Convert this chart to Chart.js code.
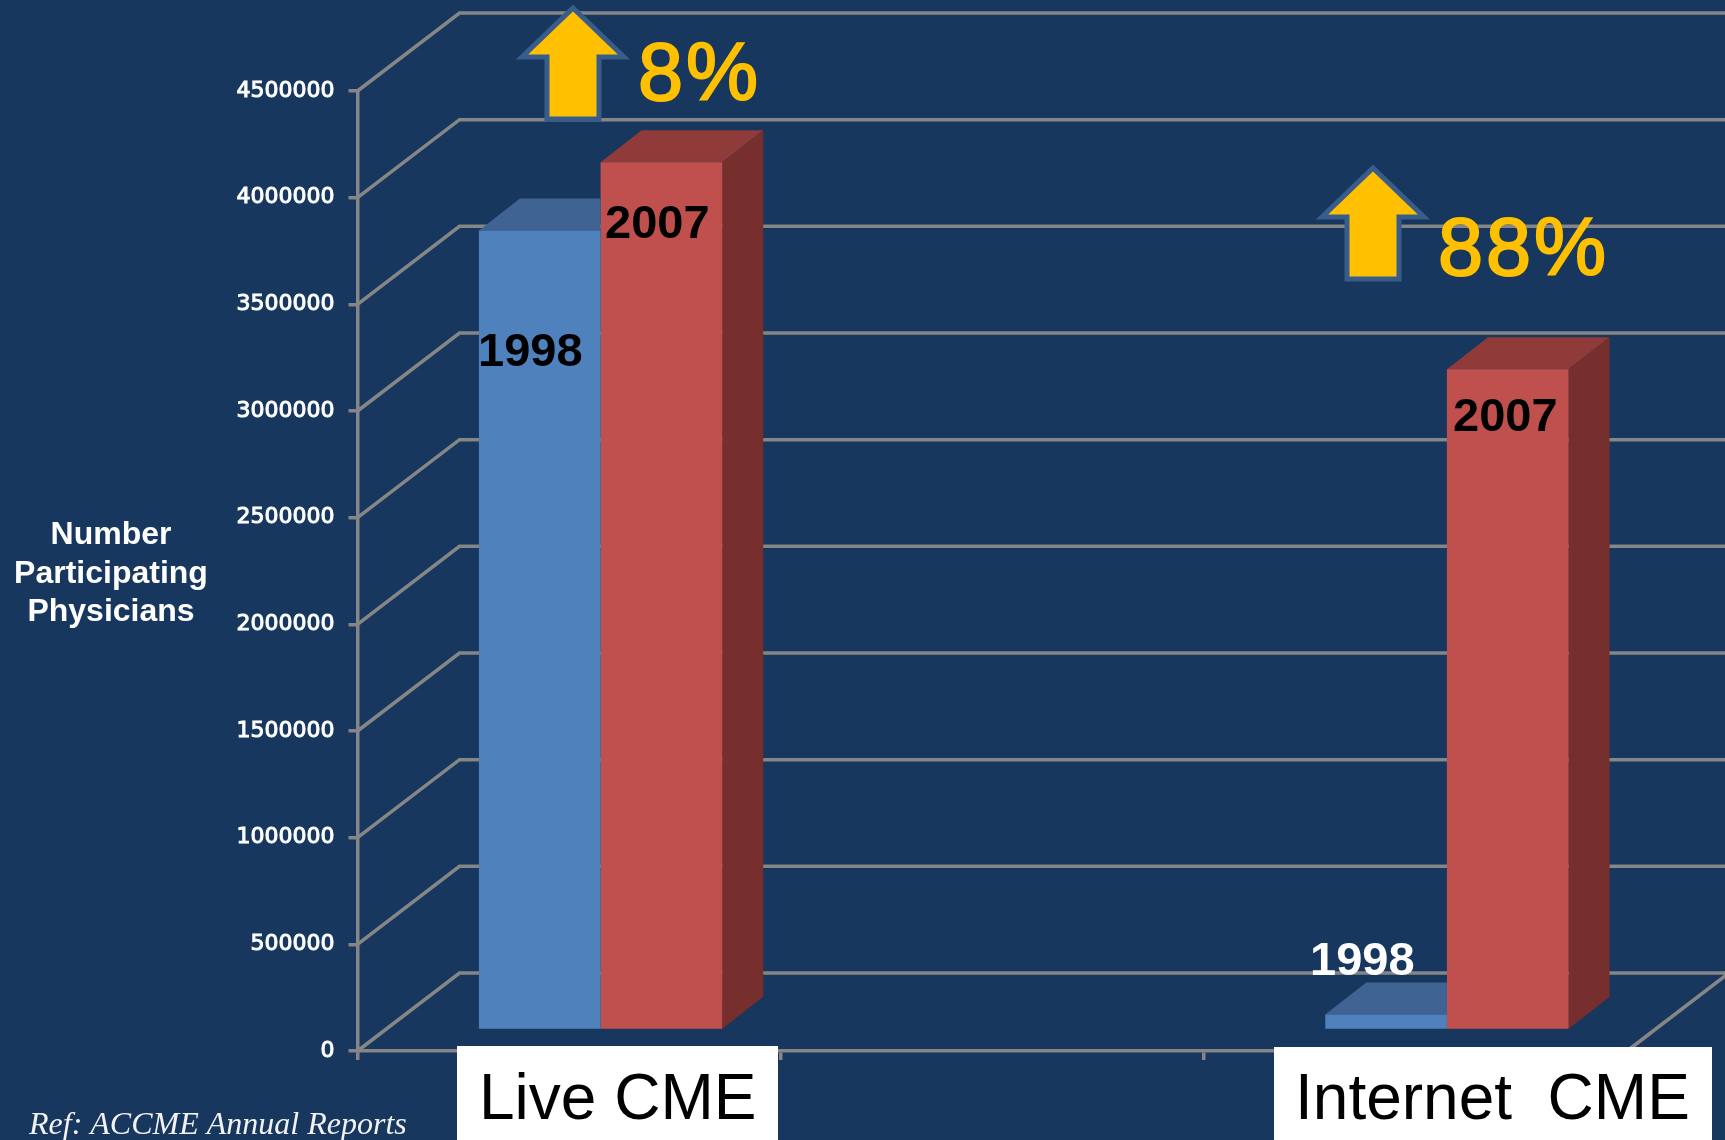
<!DOCTYPE html>
<html>
<head>
<meta charset="utf-8">
<title>Live and Internet CME participation</title>
<script src="https://cdn.jsdelivr.net/npm/chart.js@4"></script>
<style>
  html, body { margin: 0; padding: 0; background: #17375e; }
  canvas { display: block; }
</style>
</head>
<body>
<canvas id="cmeChart" width="1725" height="1140"></canvas>
<script>
const categories = ['Live CME', '', 'Internet CME'];
const years = ['1998', '2007'];
const values1998 = [3750000, null, 75000];
const values2007 = [4070000, null, 3100000];
const yMax = 4500000;
const yStep = 500000;
const yTitle = ['Number', 'Participating', 'Physicians'];
const increases = ['8%', '88%'];
const reference = 'Ref: ACCME Annual Reports';

const GRID = '#868686';
const BAR_SHIFT = { x: 31.5, y: -20.5 };   // bars stand mid way into the floor
const BAR_DEPTH = { x: 41, y: -32 };
const WALL = { x: 102, y: -78 };
const FACES = [
  { top: '#3f6493', side: null },
  { top: '#8f3b39', side: '#772f2d' }
];

function poly(ctx, points, fill) {
  ctx.beginPath();
  points.forEach(([x, y], i) => (i ? ctx.lineTo(x, y) : ctx.moveTo(x, y)));
  ctx.closePath();
  ctx.fillStyle = fill;
  ctx.fill();
}

function drawText(ctx, text, x, y, font, color, align = 'left') {
  ctx.font = font;
  ctx.fillStyle = color;
  ctx.textAlign = align;
  ctx.textBaseline = 'alphabetic';
  ctx.fillText(text, x, y);
}

function drawArrow(ctx, cx, tipY) {
  ctx.beginPath();
  ctx.moveTo(cx, tipY);
  ctx.lineTo(cx + 51, tipY + 49);
  ctx.lineTo(cx + 26, tipY + 49);
  ctx.lineTo(cx + 26, tipY + 111);
  ctx.lineTo(cx - 26, tipY + 111);
  ctx.lineTo(cx - 26, tipY + 49);
  ctx.lineTo(cx - 51, tipY + 49);
  ctx.closePath();
  ctx.fillStyle = '#ffc000';
  ctx.fill();
  ctx.lineWidth = 5;
  ctx.strokeStyle = '#385d8a';
  ctx.stroke();
}

// back wall + side wall lines, taken from the value axis
const wallsPlugin = {
  id: 'walls',
  beforeDatasetsDraw(chart) {
    const { ctx, scales, chartArea } = chart;
    const left = chartArea.left;
    ctx.save();
    ctx.strokeStyle = GRID;
    ctx.lineWidth = 3.5;
    scales.y.ticks.forEach((tick) => {
      const y = scales.y.getPixelForValue(tick.value);
      ctx.beginPath();
      ctx.moveTo(left, y);
      ctx.lineTo(left + WALL.x, y + WALL.y);
      ctx.lineTo(chart.width, y + WALL.y);
      ctx.stroke();
    });
    const floorY = scales.y.getPixelForValue(0);
    ctx.beginPath();
    ctx.moveTo(chartArea.right, floorY);
    ctx.lineTo(chartArea.right + WALL.x, floorY + WALL.y);
    ctx.stroke();
    ctx.restore();
  }
};

// shifts each bar into the floor and adds top and side faces
const depthPlugin = {
  id: 'depth',
  beforeDatasetDraw(chart, args) {
    const { ctx } = chart;
    const faces = FACES[args.index];
    const values = chart.data.datasets[args.index].data;
    ctx.save();
    ctx.translate(BAR_SHIFT.x, BAR_SHIFT.y);
    args.meta.data.forEach((bar, i) => {
      if (values[i] === null) return;
      const { x, y, base, width } = bar.getProps(['x', 'y', 'base', 'width'], true);
      const x0 = x - width / 2;
      const x1 = x + width / 2;
      const dx = BAR_DEPTH.x;
      const dy = BAR_DEPTH.y;
      if (faces.side) {
        poly(ctx, [[x0, y], [x0 + dx, y + dy], [x1 + dx, y + dy], [x1, y]], faces.top);
        poly(ctx, [[x1, y], [x1 + dx, y + dy], [x1 + dx, base + dy], [x1, base]], faces.side);
      } else {
        // right part sits behind the neighbouring bar
        poly(ctx, [[x0, y], [x0 + dx, y + dy], [x1, y + dy], [x1, y]], faces.top);
      }
    });
  },
  afterDatasetDraw(chart) {
    chart.ctx.restore();
  }
};

const notesPlugin = {
  id: 'notes',
  afterDraw(chart) {
    const { ctx } = chart;
    ctx.save();

    const sans = '"Liberation Sans", Arial, sans-serif';
    const yearFont = `bold 47px ${sans}`;
    drawText(ctx, years[0], 478, 366, yearFont, '#000000');
    drawText(ctx, years[1], 605, 238, yearFont, '#000000');
    drawText(ctx, years[1], 1453, 431, yearFont, '#000000');
    drawText(ctx, years[0], 1310, 975, yearFont, '#ffffff');

    drawArrow(ctx, 573, 8);
    drawArrow(ctx, 1373, 168);
    const pctFont = `81px ${sans}`;
    ctx.letterSpacing = '3px';
    ctx.lineWidth = 2;
    ctx.strokeStyle = '#ffc000';
    drawText(ctx, increases[0], 638, 100, pctFont, '#ffc000');
    ctx.strokeText(increases[0], 638, 100);
    drawText(ctx, increases[1], 1438, 275, pctFont, '#ffc000');
    ctx.strokeText(increases[1], 1438, 275);
    ctx.letterSpacing = '0px';

    yTitle.forEach((line, i) => {
      drawText(ctx, line, 111, 544 + i * 38.5, `bold 32px ${sans}`, '#ffffff', 'center');
    });

    ctx.fillStyle = '#ffffff';
    ctx.fillRect(457, 1046, 321, 94);
    ctx.fillRect(1274, 1047, 438, 93);
    drawText(ctx, categories[0], 479, 1119, `64px ${sans}`, '#000000');
    drawText(ctx, 'Internet  CME', 1295, 1119, `64px ${sans}`, '#000000');

    drawText(ctx, reference, 29, 1134, 'italic 32px "Liberation Serif", "Times New Roman", serif', '#f2f2f2');
    ctx.restore();
  }
};

new Chart(document.getElementById('cmeChart'), {
  type: 'bar',
  data: {
    labels: categories,
    datasets: [
      { label: years[0], data: values1998, backgroundColor: '#4f81bd' },
      { label: years[1], data: values2007, backgroundColor: '#c0504d' }
    ]
  },
  options: {
    responsive: false,
    animation: false,
    clip: false,
    borderWidth: 0,
    categoryPercentage: 0.575,
    barPercentage: 1,
    layout: { padding: { top: 91, right: 98, bottom: 0, left: 0 } },
    plugins: {
      legend: { display: false },
      tooltip: { enabled: false }
    },
    scales: {
      x: {
        offset: true,
        grid: { offset: true, drawOnChartArea: false, tickLength: 9, color: GRID, lineWidth: 3.5 },
        border: { color: GRID, width: 3.5 },
        ticks: { display: false },
        afterFit: (scale) => { scale.height = 89; }
      },
      y: {
        min: 0,
        max: yMax,
        grid: { drawOnChartArea: false, tickLength: 9, color: GRID, lineWidth: 3.5 },
        border: { color: GRID, width: 3.5 },
        ticks: {
          stepSize: yStep,
          padding: 14,
          color: '#ffffff',
          textStrokeColor: '#ffffff',
          textStrokeWidth: 1,
          font: { family: '"DejaVu Sans"', size: 22 },
          callback: (value) => String(value)
        },
        afterFit: (scale) => { scale.width = 357.5; }
      }
    }
  },
  plugins: [wallsPlugin, depthPlugin, notesPlugin]
});
</script>
</body>
</html>
